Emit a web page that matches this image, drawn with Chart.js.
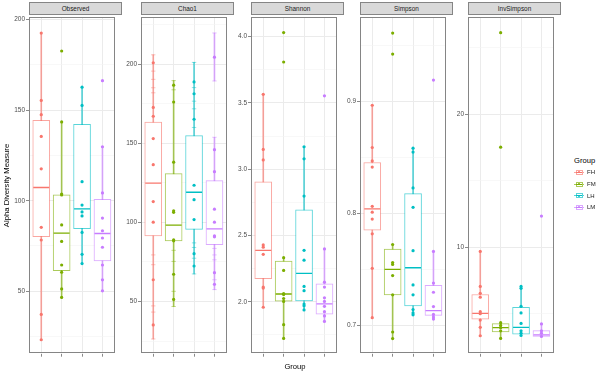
<!DOCTYPE html>
<html><head><meta charset="utf-8">
<script src="https://cdn.jsdelivr.net/npm/chart.js@4.4.0/dist/chart.umd.min.js"></script>
<style>
body{margin:0;width:600px;height:374px;background:#fff;position:relative;overflow:hidden;font-family:"Liberation Sans",Arial,sans-serif;}
.strip{position:absolute;top:2px;height:13px;box-sizing:border-box;background:#d9d9d9;border:1px solid #858585;font-size:6.4px;color:#1a1a1a;text-align:center;line-height:11px;}
.txt{position:absolute;white-space:nowrap;color:#000;}
</style>
</head><body>
<script>
const FONT = '"Liberation Sans", Arial, sans-serif';
const groups = ['FH','FM','LH','LM'];
const groupColors = ['#F8766D','#7CAE00','#00BFC4','#C77CFF'];
const measures = ['Observed','Chao1','Shannon','Simpson','InvSimpson'];

// ---------- Observed ----------
const observedPoints = [
  [192.6,155.4,147.5,135.5,117.6,85.3,78.3,37.2,23.2],
  [182.7,143.5,103.7,103.2,86.6,77.5,64.5,60.5,51.3,46.6],
  [162.7,152.6,110.5,97.6,93.8,91.6,82.5,70.4,65.3],
  [166.3,129.8,104.3,90.4,83.4,79.4,74.3,64.5,56.3,50.2]
];
const observedLow    = [23.2,46.6,65.3,50.2];
const observedQ1     = [80.1,61.3,84.6,66.7];
const observedMedian = [107.3,82.1,95.5,81.9];
const observedQ3     = [144.4,103.2,142.2,100.8];
const observedHigh   = [192.6,143.5,162.7,129.8];
const observedTicks  = [50,100,150,200];
const observedTickLabels = ['50','100','150','200'];
const observedMinor  = [25,75,125,175];
const observedRange  = [15.5,201.3];

// ---------- Chao1 ----------
const chao1Points = [
  [200.8,172.6,167,152.9,136.4,113.1,100.1,63.7,35.2],
  [186.6,176,138,107.3,106.3,88.9,88.3,67.2,51.3],
  [188.7,181.2,165.1,123.4,114.3,101.7,80.2,72.4],
  [204.3,145.9,132,108.3,100.1,91.4,90.8,68.2,60.8]
];
const chao1Low    = [26.3,46.8,67.4,57.5];
const chao1Q1     = [91.4,88.3,95.5,85.9];
const chao1Median = [124.8,98.2,119,95.8];
const chao1Q3     = [163.3,130.8,154.8,126.3];
const chao1High   = [205.8,189.5,201,153.7];
const chao1OutlierError = [null,null,null,[189.3,219.6]];
const chao1ErrorCaps = [
  [205.8,195.5,190.3,185,181.8,79.4,73.2,47.2,43.3,26.3],
  [189.5,183.7,82.3,75.3,56.4,46.8],
  [201,185.1,176.5,171.7,159.9,87,84.1,77.3,67.4],
  [219.6,189.3,153.7,83.5,79.4,76.3,63.7,57.5]
];
const chao1Ticks  = [50,100,150,200];
const chao1TickLabels = ['50','100','150','200'];
const chao1Minor  = [25,75,125,175,225];
const chao1Range  = [17.0,229.5];

// ---------- Shannon ----------
const shannonPoints = [
  [3.564,3.149,3.070,2.429,2.412,2.358,2.111,2.104,1.959],
  [4.03,3.808,2.333,2.237,2.062,2.055,2.025,2.003,1.828,1.724],
  [3.169,3.078,2.797,2.388,2.314,2.116,2.084,1.983,1.970,1.939],
  [3.553,2.399,2.148,2.111,2.030,2.003,1.966,1.926,1.894,1.852]
];
const shannonLow    = [1.959,1.724,1.939,1.852];
const shannonQ1     = [2.175,2.005,2.007,1.907];
const shannonMedian = [2.388,2.059,2.215,1.985];
const shannonQ3     = [2.905,2.308,2.693,2.136];
const shannonHigh   = [3.564,2.333,3.169,2.399];
const shannonTicks  = [2.0,2.5,3.0,3.5,4.0];
const shannonTickLabels = ['2.0','2.5','3.0','3.5','4.0'];
const shannonMinor  = [1.75,2.25,2.75,3.25,3.75];
const shannonRange  = [1.609,4.145];

// ---------- Simpson ----------
const simpsonPoints = [
  [0.8968,0.859,0.847,0.8415,0.8064,0.8011,0.795,0.7818,0.7509,0.7067],
  [0.9614,0.9426,0.7722,0.7561,0.7544,0.7444,0.7272,0.6939,0.688],
  [0.8584,0.8549,0.8228,0.8055,0.7667,0.736,0.7272,0.714,0.711,0.7093],
  [0.9193,0.766,0.7377,0.7295,0.7167,0.7096,0.7073,0.7055]
];
const simpsonLow    = [0.7067,0.688,0.7093,0.7055];
const simpsonQ1     = [0.785,0.7272,0.7172,0.7088];
const simpsonMedian = [0.804,0.75,0.7514,0.7131];
const simpsonQ3     = [0.8456,0.768,0.8178,0.7356];
const simpsonHigh   = [0.8968,0.7722,0.8584,0.766];
const simpsonTicks  = [0.7,0.8,0.9];
const simpsonTickLabels = ['0.7','0.8','0.9'];
const simpsonMinor  = [0.75,0.85,0.95];
const simpsonRange  = [0.6745,0.9755];

// ---------- InvSimpson ----------
const invSimpsonPoints = [
  [9.69,7.06,6.54,6.25,5.16,5.01,4.53,3.98,3.35],
  [26.14,17.53,4.33,4.13,3.96,3.72,3.15],
  [7.06,6.92,5.56,5.07,4.28,3.72,3.54,3.37],
  [12.35,4.24,3.72,3.54,3.30]
];
const invSimpsonLow    = [3.35,3.15,3.37,3.30];
const invSimpsonQ1     = [4.60,3.64,3.47,3.30];
const invSimpsonMedian = [5.04,3.96,3.98,3.42];
const invSimpsonQ3     = [6.45,4.26,5.49,3.74];
const invSimpsonHigh   = [9.69,4.33,7.06,4.24];
const invSimpsonTicks  = [10,20];
const invSimpsonTickLabels = ['10','20'];
const invSimpsonMinor  = [5,15,25];
const invSimpsonRange  = [2.0,27.3];

const panels = [
  {pts:observedPoints,low:observedLow,q1:observedQ1,med:observedMedian,q3:observedQ3,high:observedHigh,ticks:observedTicks,labels:observedTickLabels,minor:observedMinor,range:observedRange},
  {pts:chao1Points,low:chao1Low,q1:chao1Q1,med:chao1Median,q3:chao1Q3,high:chao1High,ticks:chao1Ticks,labels:chao1TickLabels,minor:chao1Minor,range:chao1Range,extra:chao1OutlierError,caps:chao1ErrorCaps},
  {pts:shannonPoints,low:shannonLow,q1:shannonQ1,med:shannonMedian,q3:shannonQ3,high:shannonHigh,ticks:shannonTicks,labels:shannonTickLabels,minor:shannonMinor,range:shannonRange},
  {pts:simpsonPoints,low:simpsonLow,q1:simpsonQ1,med:simpsonMedian,q3:simpsonQ3,high:simpsonHigh,ticks:simpsonTicks,labels:simpsonTickLabels,minor:simpsonMinor,range:simpsonRange},
  {pts:invSimpsonPoints,low:invSimpsonLow,q1:invSimpsonQ1,med:invSimpsonMedian,q3:invSimpsonQ3,high:invSimpsonHigh,ticks:invSimpsonTicks,labels:invSimpsonTickLabels,minor:invSimpsonMinor,range:invSimpsonRange}
];

// layout (pixels)
const panelLeft = [29,141,251,360,468];
const AW = 28, PW = 93, PADR = 2, TOP = 8, CH = 355;

function alpha(hex,a){const n=parseInt(hex.slice(1),16);return `rgba(${n>>16},${(n>>8)&255},${n&255},${a})`;}

const borderPlugin = {id:'panelBorder', afterDraw(c){
  const a=c.chartArea, x=c.ctx; x.save(); x.strokeStyle='#858585'; x.lineWidth=1;
  x.strokeRect(Math.round(a.left)+0.5, Math.round(a.top)+0.5, Math.round(a.right-a.left)-1, Math.round(a.bottom-a.top)-1);
  x.restore();
}};

panels.forEach((p,i)=>{
  const cv=document.createElement('canvas');
  const w=AW+PW+PADR;
  cv.width=w; cv.height=CH;
  cv.style.cssText=`position:absolute;left:${panelLeft[i]-AW}px;top:${TOP}px;width:${w}px;height:${CH}px`;
  document.body.appendChild(cv);
  const st=document.createElement('div'); st.className='strip'; st.textContent=measures[i];
  st.style.left=panelLeft[i]+'px'; st.style.width=PW+'px'; document.body.appendChild(st);

  const boxLine = groupColors.map(c=>alpha(c,0.65));
  const ds=[];
  ds.push({type:'bar', data:groups.map((g,k)=>({x:k+1,y:[p.low[k],p.high[k]]})), backgroundColor:boxLine, borderWidth:0, barThickness:1, grouped:false, order:7});
  if (p.extra) ds.push({type:'bar', data:groups.map((g,k)=>({x:k+1,y:p.extra[k]})), backgroundColor:boxLine, borderWidth:0, barThickness:1, grouped:false, order:7});
  ds.push({type:'bar', data:groups.map((g,k)=>({x:k+1,y:[p.q1[k],p.q3[k]]})), backgroundColor:'#ffffff', borderColor:boxLine, borderWidth:1, borderSkipped:false, barThickness:17, grouped:false, order:6});
  ds.push({type:'scatter', data:groups.map((g,k)=>({x:k+1,y:p.med[k]})), pointStyle:'line', pointRadius:8, pointBorderColor:groupColors, pointBorderWidth:1.3, order:5});
  if (p.caps) groups.forEach((g,k)=>ds.push({type:'scatter', data:p.caps[k].map(v=>({x:k+1,y:v})), pointStyle:'line', pointRadius:2.2, pointBorderColor:alpha(groupColors[k],0.55), pointBorderWidth:0.8, order:4}));
  groups.forEach((g,k)=>ds.push({type:'scatter', data:p.pts[k].map(v=>({x:k+1,y:v})), pointRadius:1.6, pointBackgroundColor:groupColors[k], pointBorderWidth:0, order:1}));

  const isMajor = ctx => ctx.tick && p.ticks.includes(ctx.tick.value);
  new Chart(cv, {
    type:'bar',
    data:{datasets:ds},
    plugins:[borderPlugin],
    options:{
      responsive:false, maintainAspectRatio:false, devicePixelRatio:1, animation:false, events:[],
      layout:{padding:{top:6,left:0,right:PADR,bottom:3}},
      plugins:{legend:{display:false}, tooltip:{enabled:false}},
      scales:{
        x:{type:'linear', min:0.4, max:4.6, offset:false,
           afterBuildTicks:s=>{s.ticks=groups.map((g,k)=>({value:k+1}));},
           ticks:{display:false},
           grid:{offset:false, color:'#ebebeb', lineWidth:1, tickColor:'#8a8a8a', tickLength:3, drawTicks:true},
           border:{display:false}},
        y:{type:'linear', min:p.range[0], max:p.range[1], beginAtZero:false,
           afterBuildTicks:s=>{s.ticks=[...p.ticks,...p.minor].sort((a,b)=>a-b).map(v=>({value:v}));},
           afterFit:s=>{s.width=AW;},
           ticks:{autoSkip:false, padding:1, color:'#4d4d4d', font:{size:6.5,family:FONT},
                  callback:v=>{const j=p.ticks.indexOf(v); return j>=0?p.labels[j]:'';}},
           grid:{color:ctx=>isMajor(ctx)?'#ebebeb':'#f4f4f4', lineWidth:ctx=>isMajor(ctx)?1:0.6,
                 tickColor:ctx=>isMajor(ctx)?'#8a8a8a':'rgba(0,0,0,0)', tickLength:3},
           border:{display:false},
           title: i===0 ? {display:true, text:'Alpha Diversity Measure', color:'#000', font:{size:7.7,family:FONT}, padding:{top:1,bottom:0}} : {display:false}
        }
      }
    }
  });
});

// x-axis title
const xt=document.createElement('div'); xt.className='txt'; xt.textContent='Group';
xt.style.cssText+='left:265px;width:60px;text-align:center;top:362px;font-size:7.6px;line-height:10px;';
document.body.appendChild(xt);

// legend
const lt=document.createElement('div'); lt.className='txt'; lt.textContent='Group';
lt.style.cssText+='left:574px;top:156px;font-size:7.6px;line-height:10px;';
document.body.appendChild(lt);
groups.forEach((g,k)=>{
  const y=172.3+11.7*k;
  const key=document.createElement('div');
  key.style.cssText=`position:absolute;left:574px;top:${y-3}px;width:10px;height:6px;`;
  const c=groupColors[k];
  key.innerHTML=`<div style="position:absolute;left:0;top:2.5px;width:10px;height:1px;background:${alpha(c,0.65)}"></div>`+
    `<div style="position:absolute;left:1.5px;top:0.5px;width:7px;height:5px;box-sizing:border-box;border:1px solid ${alpha(c,0.65)};background:#fff"></div>`+
    `<div style="position:absolute;left:2px;top:2.5px;width:6px;height:1px;background:${c}"></div>`+
    `<div style="position:absolute;left:4px;top:2px;width:2px;height:2px;border-radius:50%;background:${c}"></div>`;
  document.body.appendChild(key);
  const lb=document.createElement('div'); lb.className='txt'; lb.textContent=g;
  lb.style.cssText+=`left:587px;top:${y-4}px;font-size:6px;line-height:8px;color:#1a1a1a;`;
  document.body.appendChild(lb);
});
</script>
</body></html>
